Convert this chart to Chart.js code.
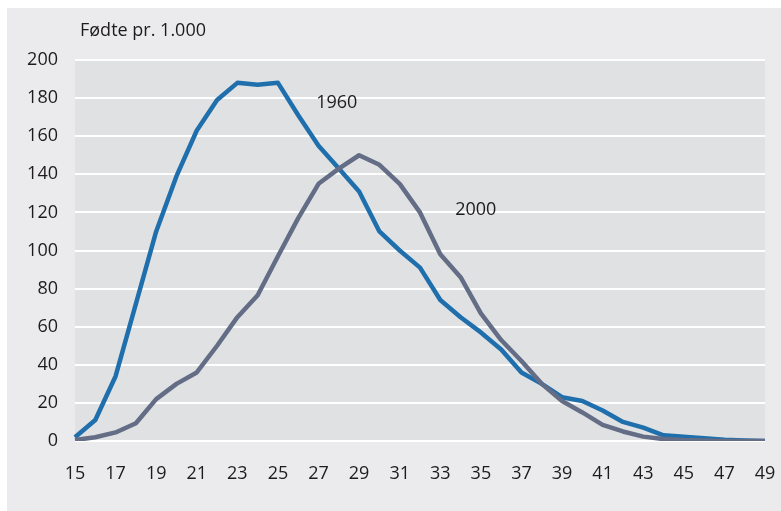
<!DOCTYPE html>
<html>
<head>
<meta charset="utf-8">
<script src="https://cdn.jsdelivr.net/npm/chart.js@4.4.1/dist/chart.umd.min.js"></script>
<style>
  html, body { margin: 0; padding: 0; background: #ffffff; }
  #wrap { width: 781px; height: 511px; position: relative; }
</style>
</head>
<body>
<div id="wrap"><canvas id="c" width="781" height="511"></canvas></div>
<script>
// ---- Data ----
const ages = [15,16,17,18,19,20,21,22,23,24,25,26,27,28,29,30,31,32,33,34,35,36,37,38,39,40,41,42,43,44,45,46,47,48,49];
const rates1960 = [2,11,34,72,110,139,163,179,188,187,188,171,155,143,131,110,100,91,74,65,57,48,36,30,23,21,16,10,7,3,2.2,1.5,0.6,0.2,0];
const rates2000 = [0.5,2,4.5,9.3,22,30,36,50,65,76.5,97,117,135,143,150,145,135,120,98,86,67,53,42,30,21,15,8.5,5,2.3,1,0.5,0.3,0,0,0];
const yTicks = [0,20,40,60,80,100,120,140,160,180,200];
const yTitle = 'Fødte pr. 1.000';
const seriesNames = ['1960', '2000'];

const FONT = '"Open Sans", "Liberation Sans", Arial, sans-serif';
const TEXT = '#1e1b1c';

const bgPlugin = {
  id: 'bgPlugin',
  beforeDraw(chart) {
    const ctx = chart.ctx;
    const a = chart.chartArea;
    ctx.save();
    ctx.fillStyle = '#ffffff';
    ctx.fillRect(0, 0, chart.width, chart.height);
    ctx.fillStyle = '#ebebed';
    ctx.fillRect(7, 8, chart.width - 7, chart.height - 8);
    ctx.fillStyle = '#e0e1e3';
    ctx.fillRect(a.left, a.top, a.right - a.left, a.bottom - a.top);
    ctx.restore();
  },
  afterDraw(chart) {
    const ctx = chart.ctx;
    const xs = chart.scales.x, ys = chart.scales.y;
    ctx.save();
    ctx.fillStyle = TEXT;
    ctx.font = '18px ' + FONT;
    ctx.textBaseline = 'middle';
    ctx.textAlign = 'left';
    ctx.fillText(yTitle, 80, 31);
    // series labels placed in data coordinates
    const labs = chart.options.plugins.bgPlugin.labels;
    ctx.textAlign = 'center';
    labs.forEach(l => {
      const px = xs.left + (l.x - ages[0]) / (ages[ages.length-1] - ages[0]) * (xs.right - xs.left);
      const py = ys.getPixelForValue(l.y);
      ctx.fillText(l.text, px, py);
    });
    ctx.restore();
  }
};

new Chart(document.getElementById('c'), {
  type: 'line',
  data: {
    labels: ages,
    datasets: [
      { label: seriesNames[0], data: rates1960, borderColor: '#1f6fad', borderWidth: 4.5, pointRadius: 0, tension: 0, fill: false, order: 2, borderJoinStyle: 'round' },
      { label: seriesNames[1], data: rates2000, borderColor: '#636d86', borderWidth: 4.5, pointRadius: 0, tension: 0, fill: false, order: 1, borderJoinStyle: 'round' }
    ]
  },
  options: {
    responsive: false,
    animation: false,
    devicePixelRatio: 1,
    layout: { padding: { left: 0, right: 16, top: 60, bottom: 0 } },
    plugins: {
      legend: { display: false },
      tooltip: { enabled: false },
      bgPlugin: { labels: [ { text: seriesNames[0], x: 27.9, y: 177.5 }, { text: seriesNames[1], x: 34.75, y: 121.5 } ] }
    },
    scales: {
      x: {
        type: 'category',
        offset: false,
        grid: { display: false, drawTicks: false },
        border: { display: false },
        ticks: {
          autoSkip: false, maxRotation: 0, color: TEXT, font: { family: FONT, size: 18 }, padding: 22,
          callback: function(v, i) { return (ages[i] % 2 === 1) ? String(ages[i]) : ''; }
        },
        afterFit(scale) { scale.height = 70; scale.paddingRight = 0; scale.paddingLeft = 0; }
      },
      y: {
        min: 0, max: 200,
        afterBuildTicks(scale) { scale.ticks = yTicks.map(v => ({ value: v })); },
        grid: { color: '#ffffff', lineWidth: 2, drawTicks: false },
        border: { display: false },
        ticks: { color: TEXT, font: { family: FONT, size: 18 }, padding: 17 },
        afterFit(scale) { scale.width = 75; scale.paddingTop = 0; scale.paddingBottom = 0; }
      }
    }
  },
  plugins: [bgPlugin]
});
</script>
</body>
</html>
